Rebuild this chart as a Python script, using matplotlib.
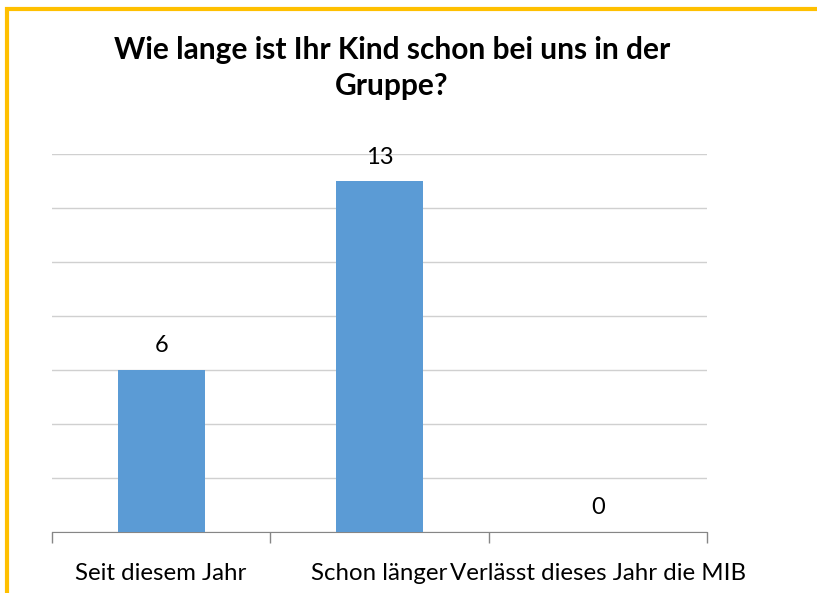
import matplotlib
matplotlib.use("Agg")
from matplotlib import pyplot as plt
from matplotlib.patches import Rectangle

categories = ["Seit diesem Jahr", "Schon länger", "Verlässt dieses Jahr die MIB"]
values = [6, 13, 0]
title = "Wie lange ist Ihr Kind schon bei uns in der\nGruppe?"

plt.rcParams['font.family'] = ['Lato', 'DejaVu Sans']

fig = plt.figure(figsize=(8.17, 5.93), dpi=100)
ax = fig.add_axes([52/817, 1 - 532/593, 655/817, 378/593])

x = range(len(categories))
ax.bar(x, values, width=0.4, color="#5B9BD5", zorder=3)
for i, v in enumerate(values):
    ax.text(i, v + 0.5, str(v), ha="center", va="bottom", fontsize=17, color="black")

ax.set_xlim(-0.5, 2.5)
ax.set_ylim(0, 14)
ax.set_yticks(range(0, 15, 2))
ax.yaxis.grid(True, color="#D0D0D0", linewidth=1, zorder=0)
ax.tick_params(axis="y", left=False, labelleft=False)
ax.set_xticks([-0.5, 0.5, 1.5, 2.5])
ax.set_xticklabels([])
ax.tick_params(axis="x", direction="out", length=8, color="#868686", width=1)
ax.set_xticks(list(x), minor=True)
ax.set_xticklabels(categories, minor=True, fontsize=17.3)
ax.tick_params(axis="x", which="minor", length=0, pad=22)
for s in ["left", "right", "top"]:
    ax.spines[s].set_visible(False)
ax.spines["bottom"].set_color("#868686")

fig.text(392/817, 1 - 68/593, title, ha="center", va="center",
         fontsize=21.5, fontweight="bold", linespacing=1.35)

# orange frame on the left and top edges
fig.patches.append(Rectangle((7/817, -0.1), 1.2, 1.1 - 9/593, transform=fig.transFigure,
                             fill=False, edgecolor="#FFC000", linewidth=3))

fig.savefig("out.png", dpi=100)
